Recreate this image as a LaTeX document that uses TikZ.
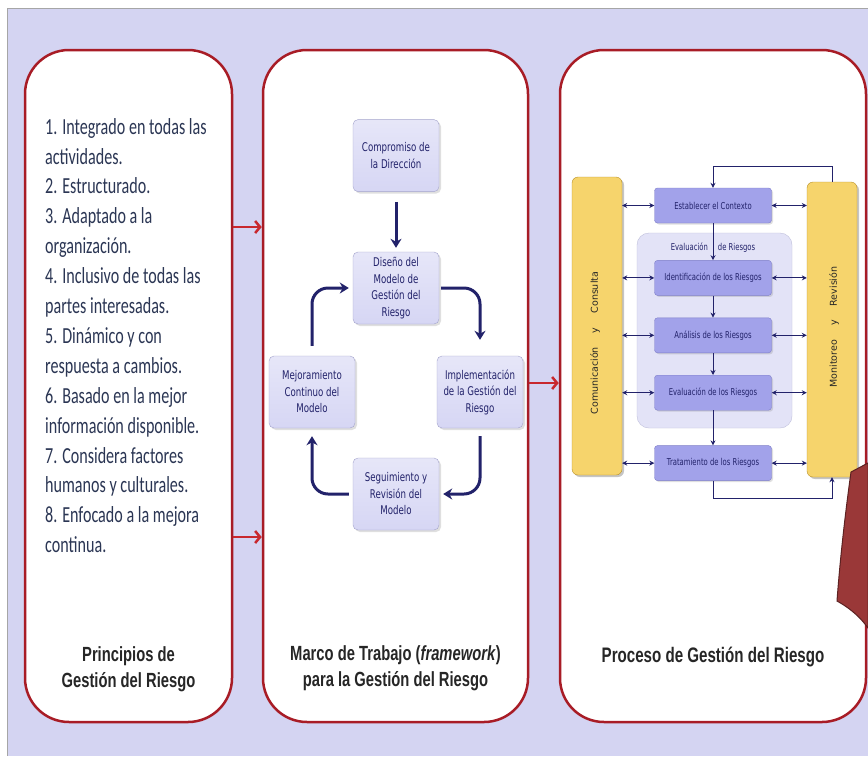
\documentclass[tikz,border=0pt]{standalone}
\usepackage{fontspec}
\setmainfont{DejaVu Sans}
\newfontfamily\listfont[FakeStretch=0.7]{Carlito}
\newfontfamily\titlefont[FakeStretch=0.72]{Liberation Sans}
\newfontfamily\boxfont[FakeStretch=0.72]{DejaVu Sans}
\newfontfamily\barfont{DejaVu Sans}
\usetikzlibrary{arrows.meta,positioning,shadows}

\definecolor{lavbg}{HTML}{D4D4F2}
\definecolor{panelred}{HTML}{A81C26}
\definecolor{arrowred}{HTML}{C8282E}
\definecolor{navy}{HTML}{22226A}
\definecolor{listtxt}{HTML}{2B3654}
\definecolor{boxfill}{HTML}{D6D6F4}
\definecolor{boxline}{HTML}{A4A4CC}
\definecolor{procfill}{HTML}{A2A2EA}
\definecolor{procline}{HTML}{7F7FC8}
\definecolor{evalfill}{HTML}{E3E3F7}
\definecolor{barfill}{HTML}{F6D46C}
\definecolor{barline}{HTML}{B8902A}
\definecolor{bigred}{HTML}{9A3838}

\tikzset{
  panel/.style={draw=panelred, line width=2.5pt, fill=white, rounded corners=44pt, minimum height=672pt},
  redarrow/.style={draw=arrowred, line width=2.5pt, -{Straight Barb[length=5pt,width=12pt]}},
  listtext/.style={font=\listfont\fontsize{23}{29.9}\selectfont, text=listtxt, align=left, inner sep=0pt},
  title/.style={font=\titlefont\bfseries\fontsize{20.5}{25.5}\selectfont, text=black!85, align=center},
  modbox/.style={draw=boxline, top color=boxfill!60, bottom color=boxfill, rounded corners=5pt,
    minimum width=86pt, minimum height=72pt, inner sep=2pt, align=center,
    font=\boxfont\fontsize{12}{16.5}\selectfont, text=navy,
    drop shadow={opacity=0.25, shadow xshift=2pt, shadow yshift=-2pt}},
  bigarrow/.style={draw=navy, line width=3pt, -{Stealth[length=9pt,width=11pt]}, rounded corners=16pt},
  procbox/.style={draw=procline, fill=procfill, rounded corners=3pt, minimum width=117pt, minimum height=35pt,
    inner sep=1pt, font=\boxfont\fontsize{9.5}{11}\selectfont, text=navy,
    drop shadow={opacity=0.25, shadow xshift=1.5pt, shadow yshift=-1.5pt}},
  evalbox/.style={draw=boxline!70, fill=evalfill, rounded corners=12pt, minimum width=155pt, minimum height=195pt},
  bar/.style={draw=barline, fill=barfill, rounded corners=6pt, minimum width=50pt,
    drop shadow={opacity=0.45, shadow xshift=2pt, shadow yshift=-2pt}},
  bartext/.style={rotate=90, font=\barfont\fontsize{9.5}{11}\selectfont, text=black!85},
  thinarrow/.style={draw=navy, line width=1pt}
}

\begin{document}
\begin{tikzpicture}[x=1pt,y=-1pt,>={Stealth[length=5pt,width=5pt]},node distance=22pt]
\useasboundingbox (0,0) rectangle (868,756);
\fill[white] (0,0) rectangle (868,756);
\fill[lavbg] (7,8) rectangle (868,756);
\draw[gray!70, line width=1pt] (7,756) -- (7,8) -- (868,8);

% the three panels
\node[panel, minimum width=207pt] (prin)  at (128.5,386) {};
\node[panel, minimum width=265pt] (marco) at (395.5,386) {};
\node[panel, minimum width=306pt] (proc)  at (713,386)   {};

\draw[redarrow] ([yshift=159pt]prin.east) -- ([yshift=159pt]marco.west);
\draw[redarrow] ([yshift=-151pt]prin.east) -- ([yshift=-151pt]marco.west);
\draw[redarrow] ([yshift=3pt]marco.east) -- ([yshift=3pt]proc.west);

% principios
\node[listtext, anchor=north west] (lista) at (45,118) {1. Integrado en todas las\\actividades.\\2. Estructurado.\\3. Adaptado a la\\organización.\\4. Inclusivo de todas las\\partes interesadas.\\5. Dinámico y con\\respuesta a cambios.\\6. Basado en la mejor\\información disponible.\\7. Considera factores\\humanos y culturales.\\8. Enfocado a la mejora\\continua.};

\node[title] (tprin)  at (128.5,669) {Principios de\\Gestión del Riesgo};
\node[title] (tmarco) at (395.5,668) {Marco de Trabajo (\textit{framework})\\para la Gestión del Riesgo};
\node[title, font=\titlefont\bfseries\fontsize{21}{25}\selectfont] (tproc) at (713,657) {Proceso de Gestión del Riesgo};

% marco de trabajo
\node[modbox] (dis)  at (396,288) {Diseño del\\Modelo de\\Gestión del\\Riesgo};
\node[modbox] (comp) [above=60pt of dis] {Compromiso de\\la Dirección};
\node[modbox] (imp)  at (480,392) {Implementación\\de la Gestión del\\Riesgo};
\node[modbox] (seg)  at (396,494) {Seguimiento y\\Revisión del\\Modelo};
\node[modbox] (mej)  at (312,392) {Mejoramiento\\Continuo del\\Modelo};

\draw[bigarrow, shorten <=10pt, shorten >=4pt] (comp) -- (dis);
\draw[bigarrow, shorten <=2pt, shorten >=16pt] (dis.east) -| (imp.north);
\draw[bigarrow, shorten <=8pt, shorten >=4pt] (imp.south) |- (seg.east);
\draw[bigarrow, shorten <=4pt, shorten >=8pt] (seg.west) -| (mej.south);
\draw[bigarrow, shorten <=10pt, shorten >=4pt] (mej.north) |- (dis.west);

% proceso
\node[bar, minimum height=298pt] (comu) at (597,326) {};
\node[bar, minimum height=295pt] (moni) at (832,329.5) {};
\node[bartext] (comutxt) at (595,343) {Comunicación\hspace{14pt}y\hspace{14pt}Consulta};
\node[bartext] (monitxt) at (834,327) {Monitoreo\hspace{14pt}y\hspace{14pt}Revisión};

\node[evalbox] (eval) at (714.5,330.5) {};
\node[font=\boxfont\fontsize{9.5}{11}\selectfont, text=navy] (evaltxt) at (713,248) {Evaluación\hspace{10pt}de Riesgos};

\node[procbox] (ctx) at (713,205.5) {Establecer el Contexto};
\node[procbox] (ide) [below=37pt of ctx] {Identificación de los Riesgos};
\node[procbox] (ana) [below=of ide] {Análisis de los Riesgos};
\node[procbox] (evr) [below=of ana] {Evaluación de los Riesgos};
\node[procbox] (tra) [below=35pt of evr] {Tratamiento de los Riesgos};

\foreach \n in {ctx,ide,ana,evr,tra} {
  \draw[thinarrow,<->] (comu.east |- \n.west) -- (\n.west);
  \draw[thinarrow,<->] (\n.east) -- (moni.west |- \n.east);
}
\foreach \a/\b in {ctx/ide,ide/ana,ana/evr,evr/tra}
  \draw[thinarrow,->] (\a) -- (\b);
\draw[thinarrow,->] (moni.north) -- ++(0,-15) -| (ctx.north);
\draw[thinarrow,->] (tra.south) -- ++(0,18) -| (moni.south);

\fill[bigred, draw=bigred!60!black, line width=1pt] (851,472) -- (868,463) -- (868,628)
  .. controls (858,614) and (846,606) .. (837,601)
  .. controls (840,560) and (845,515) .. (851,472) -- cycle;
\end{tikzpicture}
\end{document}
